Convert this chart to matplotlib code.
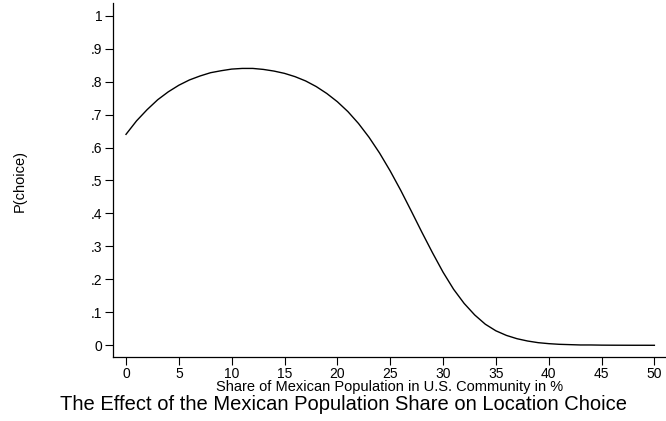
import matplotlib
matplotlib.use("Agg")
import matplotlib.pyplot as plt

# share of Mexican population (%) and predicted probability
share = list(range(0, 51))
p_choice = [0.640, 0.681, 0.715, 0.745, 0.769, 0.789, 0.805, 0.817, 0.827, 0.833,
            0.838, 0.840, 0.840, 0.837, 0.832, 0.825, 0.815, 0.802, 0.785, 0.764,
            0.739, 0.709, 0.673, 0.631, 0.583, 0.529, 0.470, 0.407, 0.343, 0.281,
            0.222, 0.170, 0.127, 0.092, 0.064, 0.044, 0.030, 0.020, 0.013, 0.008,
            0.005, 0.003, 0.002, 0.001, 0.001, 0.0005, 0.0003, 0.0002, 0.0001, 0.0001,
            0.0]

x_ticks = list(range(0, 51, 5))
y_ticks = [0, 0.1, 0.2, 0.3, 0.4, 0.5, 0.6, 0.7, 0.8, 0.9, 1.0]
y_labels = ["0", ".1", ".2", ".3", ".4", ".5", ".6", ".7", ".8", ".9", "1"]

plt.rcParams['font.family'] = ['Liberation Sans', 'DejaVu Sans']

fig = plt.figure(figsize=(6.66, 4.21), dpi=100)
ax = fig.add_axes([113 / 666, 64 / 421, 553 / 666, 354 / 421])

ax.plot(share, p_choice, color='black', linewidth=1.0)

ax.set_xlim(-1.23, 51.1)
ax.set_ylim(-0.0355, 1.0385)
ax.set_xticks(x_ticks)
ax.set_yticks(y_ticks)
ax.set_yticklabels(y_labels)
ax.tick_params(axis='both', direction='out', length=5.5, width=0.8, labelsize=10, pad=2)

for side in ['top', 'right']:
    ax.spines[side].set_visible(False)
for side in ['left', 'bottom']:
    ax.spines[side].set_linewidth(0.9)

ax.set_xlabel("Share of Mexican Population in U.S. Community in %", fontsize=10.5, labelpad=-1)
fig.text(20 / 666, 1 - 181 / 421, "P(choice)", rotation=90, fontsize=10.5,
         ha='center', va='center')

fig.text(343.5 / 666, 1 - 404 / 421, "The Effect of the Mexican Population Share on Location Choice",
         fontsize=14.5, ha='center', va='center')

fig.savefig("out.png", dpi=100)
